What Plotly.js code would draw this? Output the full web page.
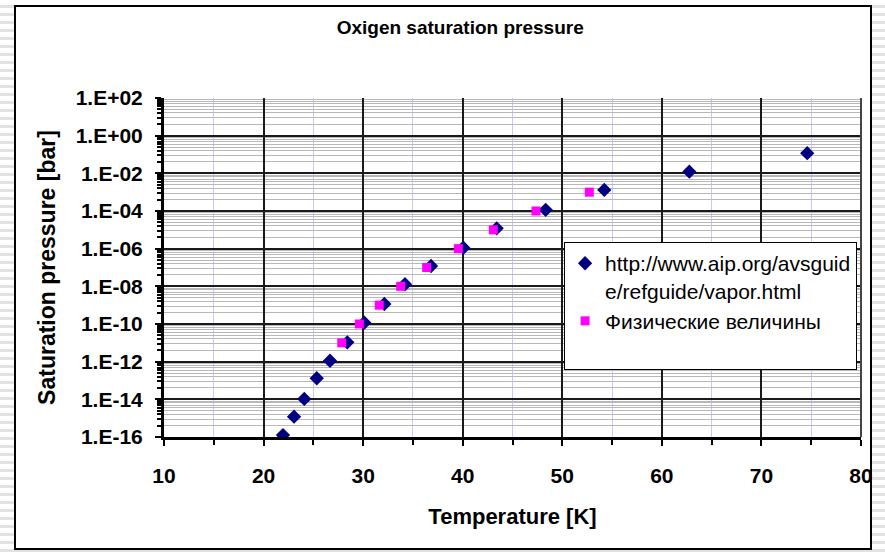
<!DOCTYPE html>
<html>
<head>
<meta charset="utf-8">
<script src="https://cdn.plot.ly/plotly-3.0.1.min.js"></script>
<style>
  html, body { margin: 0; padding: 0; width: 885px; height: 556px; overflow: hidden;
    background: repeating-linear-gradient(to bottom, #ffffff 0px, #ffffff 5px, #e2e2e2 5px, #e2e2e2 8px); }
  #frame { position: absolute; left: 14px; top: 5px; width: 854px; height: 541px;
    border: 2px solid #000; background: #fff; }
  #chart { position: absolute; left: 0; top: 0; width: 885px; height: 556px; }
</style>
</head>
<body>
<div id="frame"></div>
<div id="chart"></div>
<script>
// --- data ---
const seriesNames = ['http://www.aip.org/avsguid<br>e/refguide/vapor.html', 'Физические величины<br> '];
const temperatureAip = [21.95, 23.06, 24.09, 25.34, 26.67, 28.41, 30.12, 32.13, 34.2, 36.82, 40.06, 43.41, 48.33, 54.22, 62.76, 74.6];
const pressureAip = [1.26e-16, 1.2e-15, 1.05e-14, 1.32e-13, 1.12e-12, 1.07e-11, 1.17e-10, 1.15e-9, 1.29e-8, 1.2e-7, 1.12e-6, 1.2e-5, 1.15e-4, 1.32e-3, 1.23e-2, 1.17e-1];
const temperaturePhys = [27.85, 29.62, 31.62, 33.77, 36.38, 39.56, 43.07, 47.36, 52.71];
const pressurePhys = [1e-11, 1e-10, 1e-9, 1e-8, 1e-7, 1e-6, 1e-5, 1e-4, 1e-3];
const xTickValues = [10, 20, 30, 40, 50, 60, 70, 80];
const yTickValues = [1e-16, 1e-14, 1e-12, 1e-10, 1e-8, 1e-6, 1e-4, 1e-2, 1e0, 1e2];
const yTickLabels = ['1.E-16', '1.E-14', '1.E-12', '1.E-10', '1.E-08', '1.E-06', '1.E-04', '1.E-02', '1.E+00', '1.E+02'];

// minor grid positions of the Excel-style log axis (2 decades per band)
const yMinorValues = [];
for (let e = -16; e < 2; e += 2) {
  for (let k = 2; k <= 9; k++) yMinorValues.push(Math.pow(10, e) * k * k);
}

const FONT = 'Liberation Sans, Arial, sans-serif';

const traces = [
  { x: temperatureAip, y: pressureAip, name: seriesNames[0], type: 'scatter', mode: 'markers',
    marker: { symbol: 'diamond', size: 11, color: '#000080' } },
  { x: temperaturePhys, y: pressurePhys, name: seriesNames[1], type: 'scatter', mode: 'markers',
    marker: { symbol: 'square', size: 9, color: '#ff00ff' } }
];

const layout = {
  width: 885, height: 556,
  margin: { l: 164, r: 24, t: 98, b: 119 },
  paper_bgcolor: 'rgba(0,0,0,0)', plot_bgcolor: '#ffffff',
  font: { family: FONT, color: '#000' },
  title: { text: 'Oxigen saturation pressure', font: { family: FONT, size: 19, weight: 700, color: '#000' },
    xref: 'container', x: 0.52, xanchor: 'center', yref: 'container', y: 0.9514, yanchor: 'middle' },
  showlegend: true,
  legend: { x: 0.574, y: 0.575, xanchor: 'left', yanchor: 'top', valign: 'top',
    bgcolor: '#ffffff', bordercolor: '#000', borderwidth: 1,
    font: { family: FONT, size: 21, color: '#000' }, tracegroupgap: 0 },
  xaxis: {
    type: 'linear', range: [10, 80], tickmode: 'array', tickvals: xTickValues,
    ticks: 'outside', ticklen: 6, tickwidth: 2, tickcolor: '#000', ticklabelstandoff: 12,
    ticklabeloverflow: 'allow',
    tickfont: { family: FONT, size: 21, weight: 700, color: '#000' },
    showgrid: true, gridcolor: '#1a1a1a', gridwidth: 2, zeroline: false,
    showline: true, linecolor: '#000', linewidth: 3,
    minor: { dtick: 5, tick0: 5, ticks: 'outside', ticklen: 5, tickwidth: 2, tickcolor: '#000',
      showgrid: true, gridcolor: '#c8c8ff', gridwidth: 1 },
    title: { text: 'Temperature [K]', font: { family: FONT, size: 22, weight: 700, color: '#000' }, standoff: 23 }
  },
  yaxis: {
    type: 'log', range: [-16, 2], tickmode: 'array', tickvals: yTickValues, ticktext: yTickLabels,
    ticks: 'outside', ticklen: 6, tickwidth: 2, tickcolor: '#000', ticklabelstandoff: 8,
    tickfont: { family: FONT, size: 21, weight: 700, color: '#000' },
    showgrid: true, gridcolor: '#1a1a1a', gridwidth: 2, zeroline: false,
    showline: true, linecolor: '#000', linewidth: 3,
    minor: { tickmode: 'array', tickvals: yMinorValues, ticks: 'outside', ticklen: 4, tickwidth: 2, tickcolor: '#000',
      showgrid: true, gridcolor: '#b8b8b8', gridwidth: 1 },
    title: { text: 'Saturation pressure [bar]', font: { family: FONT, size: 23, weight: 700, color: '#000' }, standoff: 14 }
  },
  shapes: [
    { type: 'line', xref: 'paper', yref: 'paper', x0: 1, x1: 1, y0: 0, y1: 1, line: { color: '#444', width: 2 } }
  ]
};

Plotly.newPlot('chart', traces, layout, { displayModeBar: false, staticPlot: true });
</script>
</body>
</html>
